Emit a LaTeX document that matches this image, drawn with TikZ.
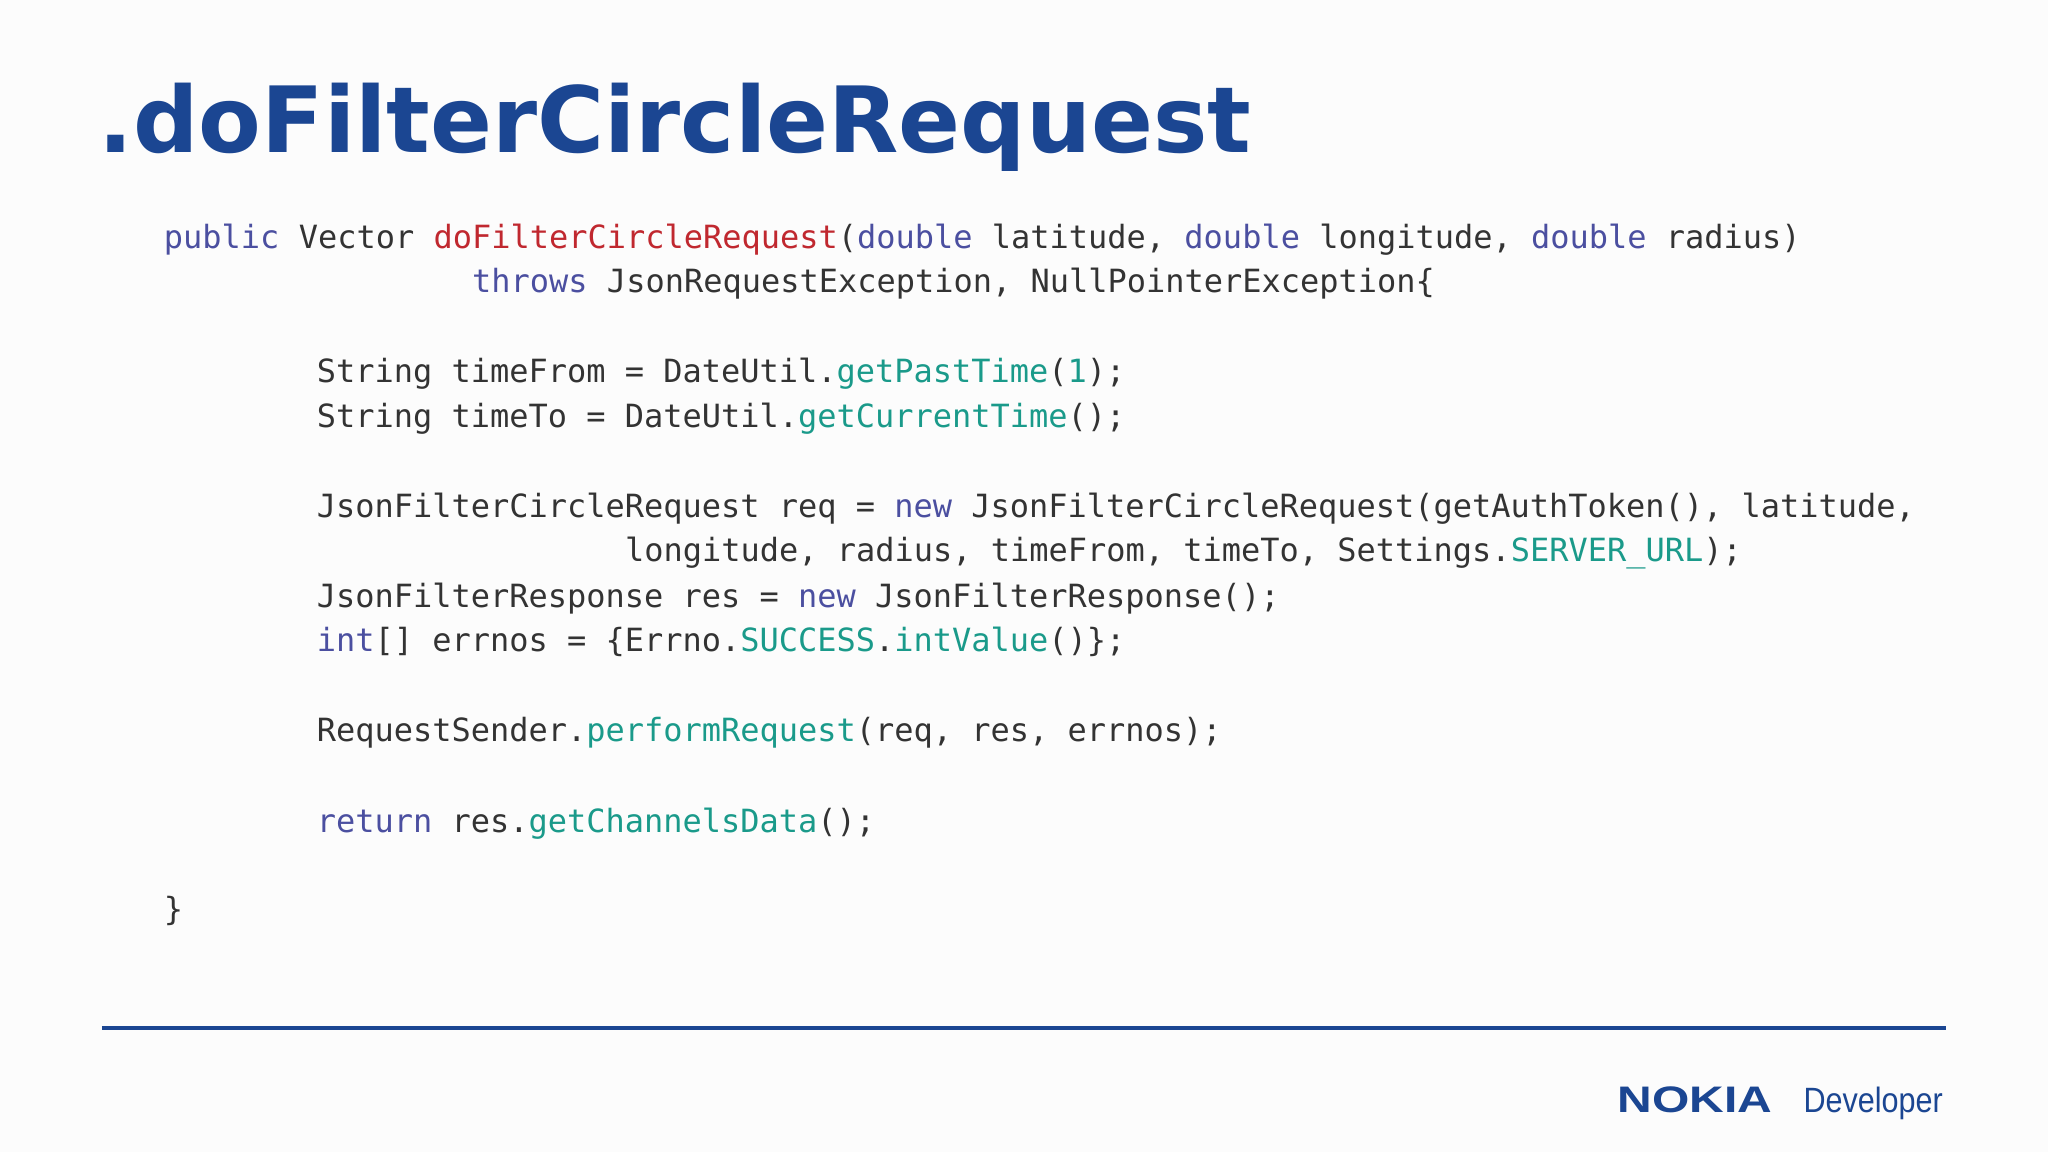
\documentclass[tikz,border=0pt]{standalone}
\usepackage{fontspec}
\setmainfont{DejaVu Sans}
\newfontfamily\codef{DejaVu Sans Mono}
\newfontfamily\logof{Liberation Sans}
\definecolor{ttl}{HTML}{1B4692}
\definecolor{kw}{HTML}{4B4FA0}
\definecolor{fn}{HTML}{C0282F}
\definecolor{mt}{HTML}{1A9A8A}
\definecolor{tx}{HTML}{333333}
\newcommand{\K}[1]{\textcolor{kw}{#1}}
\newcommand{\M}[1]{\textcolor{mt}{#1}}
\begin{document}
\begin{tikzpicture}[x=0.013061cm,y=-0.013061cm,
  cl/.style={anchor=base west,inner sep=0,font=\codef\fontsize{9.1}{11}\selectfont,text=tx}]
\fill[white!98!gray] (0,0) rectangle (1568,882);
\useasboundingbox (0,0) rectangle (1568,882);
\node[anchor=base west,inner sep=0,text=ttl,font=\bfseries\fontsize{26}{30}\selectfont] (title) at (75,117) {.doFilterCircleRequest};
\node[cl] (l1) at (125,190) {\K{public} Vector \textcolor{fn}{doFilterCircleRequest}(\K{double} latitude, \K{double} longitude, \K{double} radius)};
\node[cl] (l2) at (361,224) {\K{throws} JsonRequestException, NullPointerException\{};
\node[cl] (l3) at (242,293) {String timeFrom = DateUtil.\M{getPastTime}(\M{1});};
\node[cl] (l4) at (242,327) {String timeTo = DateUtil.\M{getCurrentTime}();};
\node[cl] (l5) at (242,396) {JsonFilterCircleRequest req = \K{new} JsonFilterCircleRequest(getAuthToken(), latitude,};
\node[cl] (l6) at (478,430) {longitude, radius, timeFrom, timeTo, Settings.\M{SERVER\_URL});};
\node[cl] (l7) at (242,465) {JsonFilterResponse res = \K{new} JsonFilterResponse();};
\node[cl] (l8) at (242,499) {\K{int}[] errnos = \{Errno.\M{SUCCESS}.\M{intValue}()\};};
\node[cl] (l9) at (242,568) {RequestSender.\M{performRequest}(req, res, errnos);};
\node[cl] (l10) at (242,637) {\K{return} res.\M{getChannelsData}();};
\node[cl] (l11) at (125,705) {\}};
\draw[ttl,line width=1.2pt] (78,787) -- (1490,787);
\node[anchor=base west,inner sep=0,text=ttl,xscale=1.3,font=\logof\bfseries\fontsize{10.5}{12}\selectfont] (nokia) at (1238,852) {NOKIA};
\node[anchor=base east,inner sep=0,text=ttl,xscale=0.87,font=\logof\fontsize{10}{12}\selectfont] (dev) at (1488,852) {Developer};
\end{tikzpicture}
\end{document}
